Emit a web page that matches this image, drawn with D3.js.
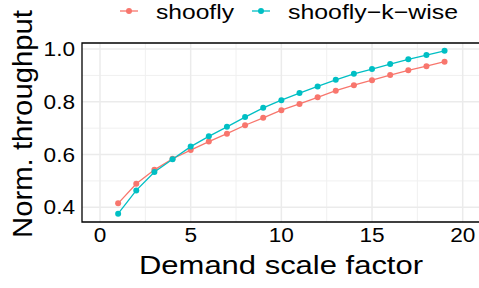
<!DOCTYPE html>
<html>
<head>
<meta charset="utf-8">
<script src="https://cdn.jsdelivr.net/npm/d3@7"></script>
<style>
  body { margin: 0; background: #fff; }
  text { font-family: "Liberation Sans", Arial, sans-serif; fill: #000; }
</style>
</head>
<body>
<script>
const W = 479, H = 288;

const scaleFactor = [1,2,3,4,5,6,7,8,9,10,11,12,13,14,15,16,17,18,19];
const shoofly = [0.415,0.489,0.542,0.584,0.617,0.649,0.679,0.711,0.739,0.768,0.792,0.817,0.842,0.863,0.882,0.901,0.919,0.935,0.952];
const shooflyKWise = [0.376,0.464,0.534,0.582,0.630,0.669,0.705,0.742,0.777,0.806,0.833,0.858,0.883,0.906,0.924,0.943,0.961,0.977,0.993];
const seriesNames = ["shoofly", "shoofly\u2212k\u2212wise"];
const seriesColors = ["#F8766D", "#00BFC4"];
const xTicks = [0,5,10,15,20];
const yTicks = [0.4,0.6,0.8,1.0];

const pLeft = 82, pTop = 43, pBottom = 222, pRight = 500;
const stretch = 1.16; // reference glyphs are wider than Liberation Sans

const x = d3.scaleLinear().domain([0, 20]).range([100, 462.7]);
const y = d3.scaleLinear().domain([0.4, 1.0]).range([207.3, 49]);

const svg = d3.select("body").append("svg")
  .attr("width", W).attr("height", H);

// grid
const grid = svg.append("g");
const xMinor = d3.range(2.5, 25, 5);
const yMinor = [0.5, 0.7, 0.9];
grid.selectAll("line.vmin").data(xMinor).join("line")
  .attr("x1", d => x(d)).attr("x2", d => x(d))
  .attr("y1", pTop).attr("y2", pBottom)
  .attr("stroke", "#F0F0F0").attr("stroke-width", 1);
grid.selectAll("line.hmin").data(yMinor).join("line")
  .attr("x1", pLeft).attr("x2", pRight)
  .attr("y1", d => y(d)).attr("y2", d => y(d))
  .attr("stroke", "#F0F0F0").attr("stroke-width", 1);
grid.selectAll("line.vmaj").data(xTicks).join("line")
  .attr("x1", d => x(d)).attr("x2", d => x(d))
  .attr("y1", pTop).attr("y2", pBottom)
  .attr("stroke", "#EBEBEB").attr("stroke-width", 1.5);
grid.selectAll("line.hmaj").data(yTicks).join("line")
  .attr("x1", pLeft).attr("x2", pRight)
  .attr("y1", d => y(d)).attr("y2", d => y(d))
  .attr("stroke", "#EBEBEB").attr("stroke-width", 1.5);

// series
const allSeries = [shoofly, shooflyKWise];
const line = d3.line().x((d, i) => x(scaleFactor[i])).y(d => y(d));
allSeries.forEach((vals, k) => {
  svg.append("path").datum(vals)
    .attr("d", line)
    .attr("fill", "none")
    .attr("stroke", seriesColors[k])
    .attr("stroke-width", 1.3);
  svg.append("g").selectAll("circle").data(vals).join("circle")
    .attr("cx", (d, i) => x(scaleFactor[i]))
    .attr("cy", d => y(d))
    .attr("r", 3)
    .attr("fill", seriesColors[k]);
});

// panel border
svg.append("path")
  .attr("d", `M${pRight},${pTop}H${pLeft}V${pBottom}H${pRight}`)
  .attr("fill", "none").attr("stroke", "#000").attr("stroke-width", 1.3);

// tick labels
svg.append("g").selectAll("text").data(xTicks).join("text")
  .attr("transform", d => `translate(${x(d)},242) scale(${stretch},1)`)
  .attr("text-anchor", "middle")
  .attr("font-size", 19.5)
  .text(d => d);
svg.append("g").selectAll("text").data(yTicks).join("text")
  .attr("transform", d => `translate(75,${y(d) + 7}) scale(${stretch},1)`)
  .attr("text-anchor", "end")
  .attr("font-size", 19.5)
  .text(d => d.toFixed(1));

// axis titles
svg.append("text")
  .attr("x", 139).attr("y", 274)
  .attr("font-size", 26.5)
  .attr("textLength", 284).attr("lengthAdjust", "spacingAndGlyphs")
  .text("Demand scale factor");
svg.append("text")
  .attr("transform", "translate(32,238) rotate(-90)")
  .attr("font-size", 28)
  .attr("textLength", 228).attr("lengthAdjust", "spacingAndGlyphs")
  .text("Norm. throughput");

// legend
const legendX = [120, 252];
const legendW = [78, 170];
const lg = svg.append("g");
seriesNames.forEach((name, k) => {
  lg.append("line")
    .attr("x1", legendX[k]).attr("x2", legendX[k] + 18)
    .attr("y1", 11).attr("y2", 11)
    .attr("stroke", seriesColors[k]).attr("stroke-width", 1.3);
  lg.append("circle")
    .attr("cx", legendX[k] + 9).attr("cy", 11).attr("r", 3)
    .attr("fill", seriesColors[k]);
  lg.append("text")
    .attr("x", legendX[k] + 36).attr("y", 19)
    .attr("font-size", 21)
    .attr("textLength", legendW[k]).attr("lengthAdjust", "spacingAndGlyphs")
    .text(name);
});
</script>
</body>
</html>
